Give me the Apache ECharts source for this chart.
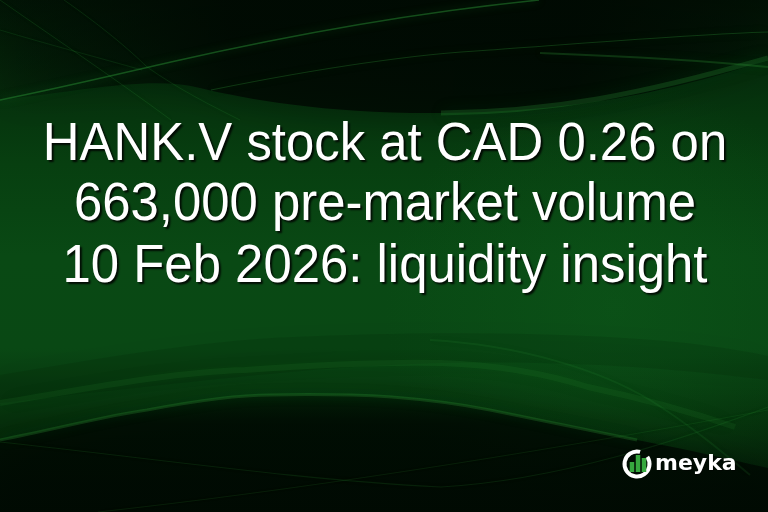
<!DOCTYPE html>
<html>
<head>
<meta charset="utf-8">
<script src="https://cdn.jsdelivr.net/npm/echarts@6/dist/echarts.min.js"></script>
<style>
html,body{margin:0;padding:0;background:#021005;}
#c{width:768px;height:512px;}
</style>
</head>
<body>
<div id="c"></div>
<script>
// ---- content ----
var titleLines = [
  'HANK.V stock at CAD 0.26 on',
  '663,000 pre-market volume',
  '10 Feb 2026: liquidity insight'
];
var brandName = 'meyka';
var logoBarCats = ['a', 'b', 'c'];
var logoBarValues = [10, 17, 14];

var chart = echarts.init(document.getElementById('c'), null, {renderer: 'canvas'});
var W = 768, H = 512;

function lin(x, y, x2, y2, stops) {
  return new echarts.graphic.LinearGradient(x, y, x2, y2, stops);
}
var shapeCount = 0;
function pathEl(d, style, z) {
  var name = 'bgPath' + (shapeCount++);
  echarts.graphic.registerShape(name, echarts.graphic.extendPath(d, {}));
  return {type: name, z: z, shape: {}, style: style, silent: true};
}
function glow(d, a, lw, blur) {
  return pathEl(d, {fill: null, stroke: 'rgba(45,150,55,' + a + ')', lineWidth: lw,
    shadowBlur: blur, shadowColor: 'rgba(35,140,50,' + Math.min(1, a * 2) + ')'}, -7);
}

var bg = [];
bg.push({type: 'rect', shape: {x: 0, y: 0, width: W, height: H}, z: -10,
  style: {fill: lin(0, 0, 0, 1, [
    {offset: 0, color: '#021806'},
    {offset: 0.15, color: '#052e0c'},
    {offset: 0.32, color: '#073f10'},
    {offset: 0.5, color: '#094914'},
    {offset: 0.68, color: '#094814'},
    {offset: 0.82, color: '#05300b'},
    {offset: 1, color: '#021205'}
  ])}});
bg.push({type: 'rect', shape: {x: 0, y: 0, width: W, height: H}, z: -9,
  style: {fill: new echarts.graphic.RadialGradient(0.8, 0.6, 0.45, [
    {offset: 0, color: 'rgba(14,95,28,0.35)'},
    {offset: 1, color: 'rgba(14,95,28,0)'}
  ])}});
// top dark region (soft lower edge)
bg.push(pathEl('M0,0 L768,0 L768,60 C700,82 600,112 441,113 C330,114 250,100 200,88 C150,76 90,90 0,100 Z',
  {fill: lin(0, 0, 1, 0.35, [
    {offset: 0, color: 'rgba(0,8,2,0.25)'},
    {offset: 0.3, color: 'rgba(0,8,2,0.8)'},
    {offset: 0.75, color: 'rgba(0,8,2,0.85)'},
    {offset: 1, color: 'rgba(0,8,2,0.45)'}
  ]), shadowBlur: 40, shadowColor: 'rgba(0,8,2,0.55)'}, -8));
// middle subtle dark band
bg.push(pathEl('M0,375 C80,362 200,340 294,337 C400,332 560,330 686,343 C720,347 750,352 768,356 L768,380 C700,372 600,360 441,363 C330,366 250,375 0,403 Z',
  {fill: 'rgba(0,20,4,0.12)', shadowBlur: 25, shadowColor: 'rgba(0,20,4,0.2)'}, -8));
// top streaks
bg.push(glow('M0,100 C60,88 110,76 171,62 C290,35 420,12 539,0', 0.45, 1.5, 8));
bg.push(glow('M211,90 C300,72 400,55 490,50 C600,42 700,34 768,32', 0.3, 1.2, 8));
bg.push(glow('M441,113 C550,112 640,95 768,58', 0.25, 5, 16));
bg.push(glow('M540,53 C620,56 700,60 768,67', 0.28, 2, 10));
bg.push(glow('M0,0 C50,35 110,75 171,120', 0.2, 1, 5));
bg.push(glow('M64,0 C100,25 130,50 147,67 C180,90 210,105 240,120', 0.18, 1, 5));
bg.push(glow('M0,30 C50,45 100,58 142,70', 0.16, 1, 5));
// mid glow band
bg.push(glow('M0,403 C80,390 170,372 245,370 C330,364 400,362 441,363 C500,365 550,375 588,387 C650,400 700,415 735,427', 0.13, 6, 22));
// bottom dark lens (soft top edge)
bg.push(pathEl('M0,440 C60,428 110,415 147,410 C200,400 240,395 270,395 C320,394 360,395 392,397 C430,400 460,404 490,410 C550,422 600,432 637,440 C700,452 740,462 768,468 L768,512 L0,512 Z',
  {fill: lin(0, 0, 0, 1, [
    {offset: 0, color: 'rgba(0,9,2,0.45)'},
    {offset: 0.25, color: 'rgba(0,9,2,0.8)'},
    {offset: 1, color: 'rgba(0,9,2,0.85)'}
  ]), shadowBlur: 30, shadowColor: 'rgba(0,9,2,0.5)'}, -8));
bg.push(glow('M0,440 C60,428 110,415 147,410 C200,400 240,395 270,395 C320,394 360,395 392,397 C430,400 460,404 490,410 C550,422 600,432 637,440', 0.28, 3, 12));
bg.push(glow('M0,442 C150,458 300,480 441,487 C560,480 680,440 768,407', 0.16, 1.2, 6));
bg.push(glow('M98,512 C300,490 550,450 768,410', 0.15, 1.2, 6));
bg.push(glow('M430,340 C520,345 600,370 650,400 C690,425 720,450 750,475', 0.14, 2, 8));

// title lines
var lineY = [145.3, 205.6, 267.4];
var texts = titleLines.map(function (t, i) {
  return {type: 'text', x: 385, y: lineY[i], z: 10, scaleX: 0.96,
    style: {text: t, fill: '#ffffff', font: '53px "Liberation Sans", Arial, sans-serif',
      align: 'center', verticalAlign: 'middle',
      textShadowColor: 'rgba(0,0,0,0.85)', textShadowOffsetX: 2, textShadowOffsetY: 2, textShadowBlur: 2}};
});

var logo = [
  {type: 'arc', z: 10, shape: {cx: 637, cy: 464, r: 12.5, startAngle: -Math.PI * 0.19, endAngle: -Math.PI * 0.42, clockwise: true},
    style: {stroke: '#ffffff', lineWidth: 4, fill: null, lineCap: 'butt'}},
  {type: 'text', x: 655, y: 464, z: 10,
    style: {text: brandName, fill: '#ffffff', font: 'bold 22px "DejaVu Sans", sans-serif',
      align: 'left', verticalAlign: 'middle', textShadowColor: 'rgba(0,0,0,0.5)', textShadowOffsetX: 1, textShadowOffsetY: 1, textShadowBlur: 1}}
];

chart.setOption({
  animation: false,
  backgroundColor: '#021005',
  grid: {left: 629, top: 455, width: 18, height: 17},
  xAxis: {type: 'category', data: logoBarCats, show: false},
  yAxis: {type: 'value', min: 0, max: 17, show: false},
  series: [{type: 'bar', data: logoBarValues, barWidth: 4.5, z: 11,
    itemStyle: {color: '#36a83e'}, silent: true}],
  graphic: bg.concat(texts, logo)
});
</script>
</body>
</html>
